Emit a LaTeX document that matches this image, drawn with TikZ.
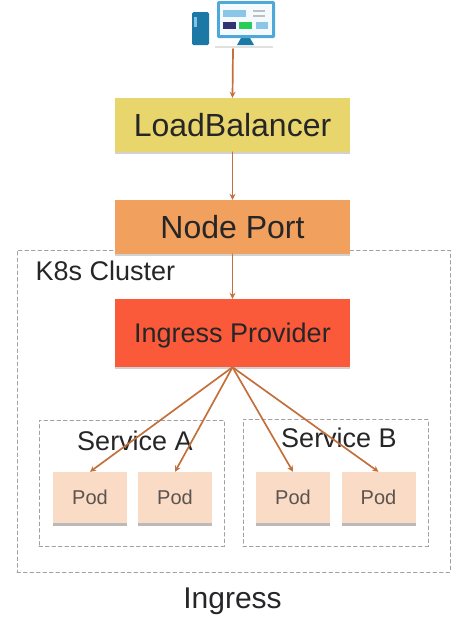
\documentclass[tikz,border=0pt]{standalone}
\usepackage{fontspec}
\setmainfont{Liberation Sans}
\usetikzlibrary{arrows.meta,shadows}
\definecolor{inkc}{RGB}{38,38,40}
\definecolor{wirec}{RGB}{196,112,60}
\definecolor{lbc}{RGB}{232,213,107}
\definecolor{portc}{RGB}{241,160,93}
\definecolor{ingc}{RGB}{251,90,58}
\definecolor{podc}{RGB}{250,219,197}
\definecolor{dashc}{RGB}{160,160,160}
\definecolor{iconc}{RGB}{78,168,216}
\definecolor{serverc}{RGB}{28,120,165}

\tikzset{
  layer/.style={minimum width=235pt, inner sep=0pt, text=inkc, text depth=0pt,
    drop shadow={shadow xshift=0pt, shadow yshift=-2pt, opacity=.3, fill=black!60}},
  podbox/.style={fill=podc, minimum width=74pt, minimum height=51pt, inner sep=0pt,
    text=inkc!75!podc, font=\fontsize{20}{24}\selectfont,
    drop shadow={shadow xshift=0pt, shadow yshift=-2.5pt, opacity=.45, fill=black!60}},
  zone/.style={draw=dashc, dash pattern=on 3.5pt off 3pt, line width=1pt, inner sep=0pt},
  zonelabel/.style={text=inkc, inner sep=0pt},
  wire/.style={->, wirec, line width=1.7pt}
}

\begin{document}
\begin{tikzpicture}[x=1pt, y=-1pt, >={Stealth[length=6pt,width=6pt]}, line cap=round]
  \useasboundingbox (0,0) rectangle (462,619);

  % dashed frames
  \node[zone, minimum width=433pt, minimum height=322pt] (cluster) at (233.5,411) {};
  \node[zone, minimum width=185pt, minimum height=126pt] (serviceA) at (131.5,483) {};
  \node[zone, minimum width=185pt, minimum height=127pt] (serviceB) at (335.5,482.5) {};

  % terminal icon: server and monitor
  \fill[serverc, rounded corners=1.5pt] (192,12) rectangle (209,45);
  \fill[iconc!70!white] (194,17) rectangle (197,27);
  \fill[black!12] (215,45.5) rectangle (273,47.5);
  \fill[serverc] (241,38) -- (250,38) -- (254,45) -- (237,45) -- cycle;
  \fill[iconc, rounded corners=1.5pt] (217,1) rectangle (275,38);
  \fill[white!94!iconc] (220,4) rectangle (272,35);
  \fill[iconc!65!white] (223,10) rectangle (246,17);
  \fill[black!25] (253,10) rectangle (265,12);
  \fill[black!25] (253,15) rectangle (265,17);
  \fill[black!70!blue!80!white] (223,22) rectangle (236,29);
  \fill[green!55!teal!85!white] (239,22) rectangle (252,29);
  \fill[iconc!65!white] (256,22) rectangle (268,29);
  \coordinate (terminal) at (233,49);

  % layers
  \node[layer, fill=lbc, minimum height=54pt, font=\fontsize{32}{36}\selectfont] (lb) at (232.5,125) {LoadBalancer};
  \node[layer, fill=portc, minimum height=54pt, font=\fontsize{32}{36}\selectfont] (port) at (232.5,227) {Node Port};
  \node[layer, fill=ingc, minimum height=68pt, font=\fontsize{27}{32}\selectfont] (ingress) at (232.5,333) {Ingress Provider};

  % pods
  \node[podbox] (podA) at (90,497.5) {Pod};
  \node[podbox] (podB) at (175,497.5) {Pod};
  \node[podbox] (podC) at (293,497.5) {Pod};
  \node[podbox] (podD) at (378.5,497.5) {Pod};

  % labels
  \node[zonelabel, font=\fontsize{27}{32}\selectfont] (clusterlabel) at (105.5,271) {K8s Cluster};
  \node[zonelabel, font=\fontsize{27}{32}\selectfont] (labelA) at (135,441) {Service A};
  \node[zonelabel, font=\fontsize{27}{32}\selectfont] (labelB) at (339,438) {Service B};
  \node[zonelabel, text depth=0pt, font=\fontsize{30}{36}\selectfont] (title) at (232.5,598) {Ingress};

  % connectors
  \draw[wire] (terminal) -- (lb.north);
  \draw[wire] (lb.south) -- (port.north);
  \draw[wire] (port.south) -- (ingress.north);
  \draw[wire] (ingress.south) -- (podA.north);
  \draw[wire] (ingress.south) -- (podB.north);
  \draw[wire] (ingress.south) -- (podC.north);
  \draw[wire] (ingress.south) -- (podD.north);
\end{tikzpicture}
\end{document}
